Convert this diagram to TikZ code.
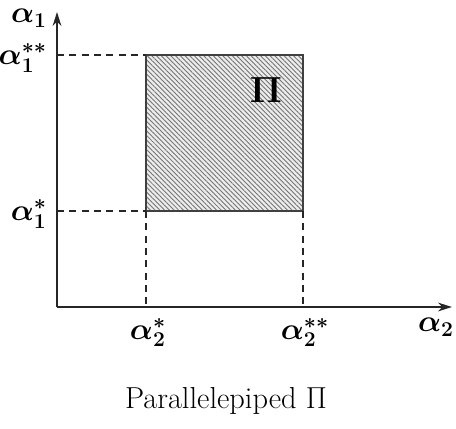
\documentclass[tikz,border=0pt]{standalone}
\usepackage{amsmath,bm}
\usepackage{xcolor}
\usepackage{tikz}
\usetikzlibrary{positioning,arrows.meta,patterns.meta}

\begin{document}
\begin{tikzpicture}[
  axis/.style={line width=1.1pt, draw=black!85, -{Stealth[length=8pt,width=5pt]}},
  guide/.style={line width=1pt, dash pattern=on 4pt off 3pt, black!85},
  region/.style={draw=black!75, line width=0.6pt,
    pattern={Lines[angle=-45,distance=1.9pt,line width=0.5pt]}, pattern color=black!55},
  tick/.style={font=\LARGE, inner sep=1pt},
]
  \useasboundingbox (0,0) rectangle (9.12,8.56);

  % Axes
  \coordinate (O) at (1.14,2.42);
  \coordinate (ytip) at (1.14,8.32);
  \coordinate (xtip) at (9.04,2.42);
  \draw[axis] (O) -- (ytip);
  \draw[axis] (O) -- (xtip);

  % Box corners
  \coordinate (ll) at (2.92,4.34);
  \coordinate (ur) at (6.06,7.46);
  \coordinate (ul) at (ll |- ur);
  \coordinate (lr) at (ur |- ll);
  \coordinate (ya) at (O |- ur);
  \coordinate (yb) at (O |- ll);
  \coordinate (xa) at (O -| ll);
  \coordinate (xb) at (O -| ur);

  % Shaded region
  \fill[gray!15] (ll) rectangle (ur);
  \draw[region] (ll) rectangle (ur);
  \node[font=\huge\bfseries] (pi) at (5.32,6.76) {$\mathbf{\Pi}$};

  % Dashed guides
  \draw[guide] (ya) -- (ul);
  \draw[guide] (yb) -- (ll);
  \draw[guide] (ll) -- (xa);
  \draw[guide] (lr) -- (xb);

  % Axis labels
  \node[tick, anchor=east] (a1) at (0.98,8.2) {$\bm{\alpha_1}$};
  \node[tick, anchor=east] (a1ss) at (0.98,7.4) {$\bm{\alpha_1^{**}}$};
  \node[tick, anchor=east] (a1s) at (0.98,4.28) {$\bm{\alpha_1^{*}}$};
  \node[tick, anchor=north] (a2s) at (2.96,2.24) {$\bm{\alpha_2^{*}}$};
  \node[tick, anchor=north] (a2ss) at (6.1,2.24) {$\bm{\alpha_2^{**}}$};
  \node[tick, anchor=north east] (a2) at (9.12,2.24) {$\bm{\alpha_2}$};

  % Caption
  \node[font=\LARGE] (cap) at (4.52,0.54) {Parallelepiped $\Pi$};
\end{tikzpicture}
\end{document}
